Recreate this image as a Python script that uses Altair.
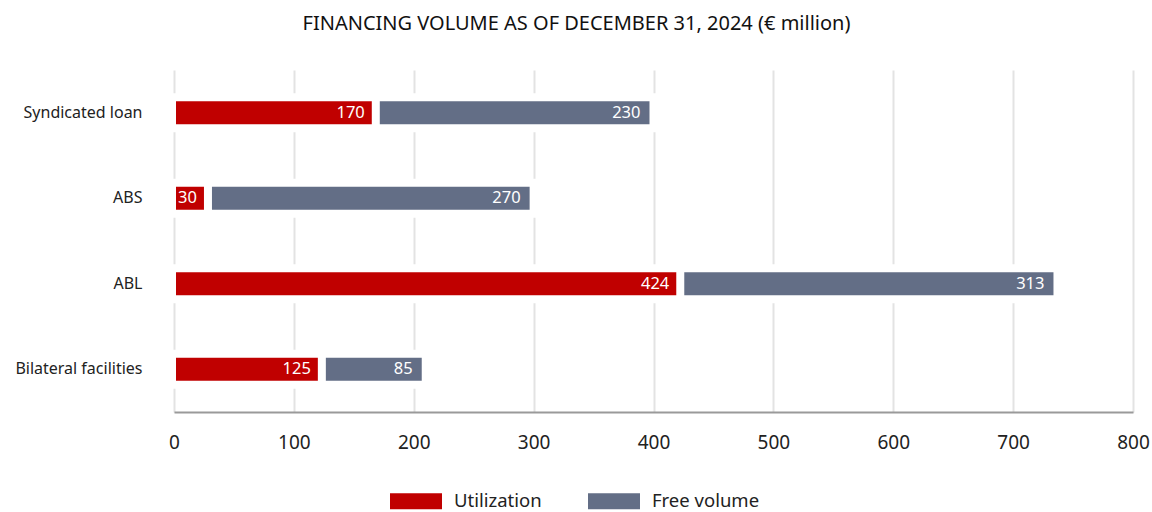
import altair as alt
import pandas as pd

categories = ["Syndicated loan", "ABS", "ABL", "Bilateral facilities"]
utilization = [170, 30, 424, 125]
free_volume = [230, 270, 313, 85]
series = ["Utilization", "Free volume"]
colors = ["#c00000", "#636e86"]
x_ticks = [0, 100, 200, 300, 400, 500, 600, 700, 800]

rows = []
for c, u, f in zip(categories, utilization, free_volume):
    rows.append({"category": c, "series": series[0], "value": u, "ord": 0})
    rows.append({"category": c, "series": series[1], "value": f, "ord": 1})
df = pd.DataFrame(rows)

FONT = "Noto Sans"

base = alt.Chart(df).transform_stack(
    stack="value", groupby=["category"], as_=["x0", "x1"],
    sort=[alt.SortField("ord", order="ascending")]
)

y_enc = alt.Y("category:N", sort=categories, title=None,
              scale=alt.Scale(paddingInner=0, paddingOuter=0),
              axis=alt.Axis(domain=False, ticks=False, labelFontSize=16,
                            labelColor="#222222", labelPadding=32, labelFont=FONT))

bars = base.mark_bar(size=31, stroke="white", strokeWidth=8, xOffset=-2).encode(
    x=alt.X("x0:Q", title=None,
            scale=alt.Scale(domain=[0, 800], nice=False),
            axis=alt.Axis(values=x_ticks, grid=True, gridColor="#e3e3e3", gridWidth=2,
                          domainColor="#9a9a9a", domainWidth=2, ticks=False,
                          labelFontSize=19, labelColor="#222222", labelPadding=21,
                          labelFlush=False, labelFont=FONT)),
    x2="x1:Q",
    y=y_enc,
    color=alt.Color("series:N", scale=alt.Scale(domain=series, range=colors),
                    sort=series,
                    legend=alt.Legend(title=None, orient="none", direction="horizontal",
                                      legendX=216, legendY=405,
                                      symbolType="M-1,-0.31L1,-0.31L1,0.31L-1,0.31Z",
                                      symbolSize=2704, symbolStrokeWidth=0,
                                      labelFontSize=18.5, labelColor="#222222",
                                      labelFont=FONT, labelOffset=12,
                                      columnPadding=46)),
)

labels = base.mark_text(align="right", baseline="middle", dx=-13, color="white",
                        fontSize=16.5, font=FONT).encode(
    x="x1:Q",
    y=alt.Y("category:N", sort=categories),
    text="value:Q",
)

chart = alt.layer(bars, labels).properties(
    width=959, height=342,
    background="white",
    title=alt.TitleParams("FINANCING VOLUME AS OF DECEMBER 31, 2024 (€ million)",
                          fontSize=20, fontWeight="normal", font=FONT, color="#111111",
                          anchor="middle", frame="group", dx=-77, offset=36),
    padding={"left": 174, "top": 70, "right": 19, "bottom": 100},
    autosize=alt.AutoSizeParams(type="none"),
).configure_view(strokeWidth=0, stroke="transparent")

chart.save("out.html", embed_options={"renderer": "svg", "actions": False})
